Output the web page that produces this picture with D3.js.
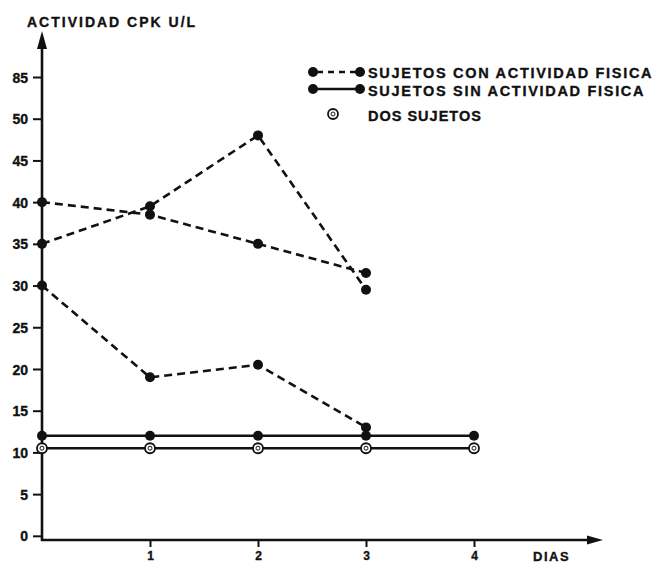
<!DOCTYPE html>
<html>
<head>
<meta charset="utf-8">
<script src="https://cdn.jsdelivr.net/npm/d3@7/dist/d3.min.js"></script>
<style>
  html, body { margin: 0; padding: 0; background: #fff; }
  svg { display: block; }
  text { font-family: "Liberation Sans", Arial, Helvetica, sans-serif; font-weight: bold; fill: #111; stroke: #111; stroke-width: 0.35px; }
</style>
</head>
<body>
<svg id="chart" width="658" height="564"></svg>
<script>
// ---- data ----
const yTickValues = [0, 5, 10, 15, 20, 25, 30, 35, 40, 45, 50, 55];
const yTickLabels = ["0", "5", "10", "15", "20", "25", "30", "35", "40", "45", "50", "85"];
const xTickValues = [1, 2, 3, 4];
const xTickLabels = ["1", "2", "3", "4"];

const daysCon = [0, 1, 2, 3];
const conActividadA = [40, 38.5, 35, 31.5];
const conActividadB = [35, 39.5, 48, 29.5];
const conActividadC = [30, 19, 20.5, 13];

const daysSin = [0, 1, 2, 3, 4];
const sinActividad = [12, 12, 12, 12, 12];
const dosSujetos = [10.5, 10.5, 10.5, 10.5, 10.5];

const yTitle = "ACTIVIDAD CPK U/L";
const xTitle = "DIAS";
const legendLabels = ["SUJETOS CON ACTIVIDAD FISICA", "SUJETOS SIN ACTIVIDAD FISICA", "DOS SUJETOS"];

// ---- drawing ----
const svg = d3.select("#chart");
const ink = "#111";

const x = d3.scaleLinear().domain([0, 4]).range([42, 474]);
const y = d3.scaleLinear().domain([-0.5, 55]).range([540, 77]);

const x0 = x(0);
const yBase = y.range()[0];

// Y axis line with arrow
svg.append("line").attr("x1", x0).attr("x2", x0).attr("y1", yBase + 1).attr("y2", 44)
  .attr("stroke", ink).attr("stroke-width", 2.6);
svg.append("path").attr("d", `M${x0 - 5},49 L${x0},31 L${x0 + 5},49 Z`).attr("fill", ink);

// Y ticks
const yAxis = d3.axisLeft(y).tickValues(yTickValues).tickSize(9).tickPadding(5)
  .tickFormat((d, i) => yTickLabels[i]);
const gy = svg.append("g").attr("transform", `translate(${x0},0)`).call(yAxis);
gy.select(".domain").remove();
gy.selectAll(".tick line").attr("stroke", ink).attr("stroke-width", 2);
gy.selectAll(".tick text").attr("font-size", 14).attr("fill", ink).attr("dy", "0.36em")
  .style("font-family", '"Liberation Sans", Arial, sans-serif').style("font-weight", "bold")
  .attr("stroke", ink).attr("stroke-width", 0.35);

// X axis line with arrow
svg.append("line").attr("x1", x0 - 1).attr("x2", 590).attr("y1", yBase).attr("y2", yBase)
  .attr("stroke", ink).attr("stroke-width", 2.6);
svg.append("path").attr("d", `M587,${yBase - 4.5} L603,${yBase} L587,${yBase + 4.5} Z`).attr("fill", ink);

const xAxis = d3.axisBottom(x).tickValues(xTickValues).tickSize(7).tickPadding(4)
  .tickFormat((d, i) => xTickLabels[i]);
const gx = svg.append("g").attr("transform", `translate(0,${yBase})`).call(xAxis);
gx.select(".domain").remove();
gx.selectAll(".tick line").attr("stroke", ink).attr("stroke-width", 2);
gx.selectAll(".tick text").attr("font-size", 12).attr("fill", ink).attr("dy", "0.72em")
  .style("font-family", '"Liberation Sans", Arial, sans-serif').style("font-weight", "bold")
  .attr("stroke", ink).attr("stroke-width", 0.35);

// Titles
svg.append("text").attr("x", 27).attr("y", 27).attr("font-size", 14)
  .attr("letter-spacing", 2).text(yTitle);
svg.append("text").attr("x", 533).attr("y", 561).attr("font-size", 13)
  .attr("letter-spacing", 1.5).text(xTitle);

// Lines
const line = d3.line();
function drawSeries(days, vals, dashed) {
  const pts = days.map((d, i) => [x(d), y(vals[i])]);
  svg.append("path").attr("d", line(pts)).attr("fill", "none").attr("stroke", ink)
    .attr("stroke-width", 2.6)
    .attr("stroke-dasharray", dashed ? "8,5" : null);
  return pts;
}
function drawDots(pts) {
  svg.append("g").selectAll("circle").data(pts).join("circle")
    .attr("cx", d => d[0]).attr("cy", d => d[1]).attr("r", 5).attr("fill", ink);
}
function drawOpen(pts) {
  const g = svg.append("g");
  g.selectAll("circle.o").data(pts).join("circle").attr("class", "o")
    .attr("cx", d => d[0]).attr("cy", d => d[1]).attr("r", 5)
    .attr("fill", "#fff").attr("stroke", ink).attr("stroke-width", 1.8);
  g.selectAll("circle.i").data(pts).join("circle").attr("class", "i")
    .attr("cx", d => d[0]).attr("cy", d => d[1]).attr("r", 2)
    .attr("fill", "none").attr("stroke", ink).attr("stroke-width", 1);
}

const pA = drawSeries(daysCon, conActividadA, true);
const pB = drawSeries(daysCon, conActividadB, true);
const pC = drawSeries(daysCon, conActividadC, true);
const pS = drawSeries(daysSin, sinActividad, false);
const pD = drawSeries(daysSin, dosSujetos, false);
drawDots(pA); drawDots(pB); drawDots(pC); drawDots(pS);
drawOpen(pD);

// Legend
const lg = svg.append("g");
lg.append("line").attr("x1", 313).attr("x2", 360).attr("y1", 72).attr("y2", 72)
  .attr("stroke", ink).attr("stroke-width", 2.6).attr("stroke-dasharray", "6,5").attr("stroke-dashoffset", -4);
lg.append("circle").attr("cx", 313).attr("cy", 72).attr("r", 5).attr("fill", ink);
lg.append("circle").attr("cx", 360).attr("cy", 72).attr("r", 5).attr("fill", ink);
lg.append("line").attr("x1", 313).attr("x2", 360).attr("y1", 89).attr("y2", 89)
  .attr("stroke", ink).attr("stroke-width", 2.6);
lg.append("circle").attr("cx", 313).attr("cy", 89).attr("r", 5).attr("fill", ink);
lg.append("circle").attr("cx", 360).attr("cy", 89).attr("r", 5).attr("fill", ink);
lg.append("circle").attr("cx", 333).attr("cy", 114).attr("r", 5)
  .attr("fill", "#fff").attr("stroke", ink).attr("stroke-width", 1.8);
lg.append("circle").attr("cx", 333).attr("cy", 114).attr("r", 2)
  .attr("fill", "none").attr("stroke", ink).attr("stroke-width", 1);

const legendY = [78, 96, 121];
lg.selectAll("text").data(legendLabels).join("text")
  .attr("x", 368).attr("y", (d, i) => legendY[i]).attr("font-size", 14.5)
  .attr("letter-spacing", (d, i) => i === 2 ? 1 : 1.7).text(d => d);
</script>
</body>
</html>
